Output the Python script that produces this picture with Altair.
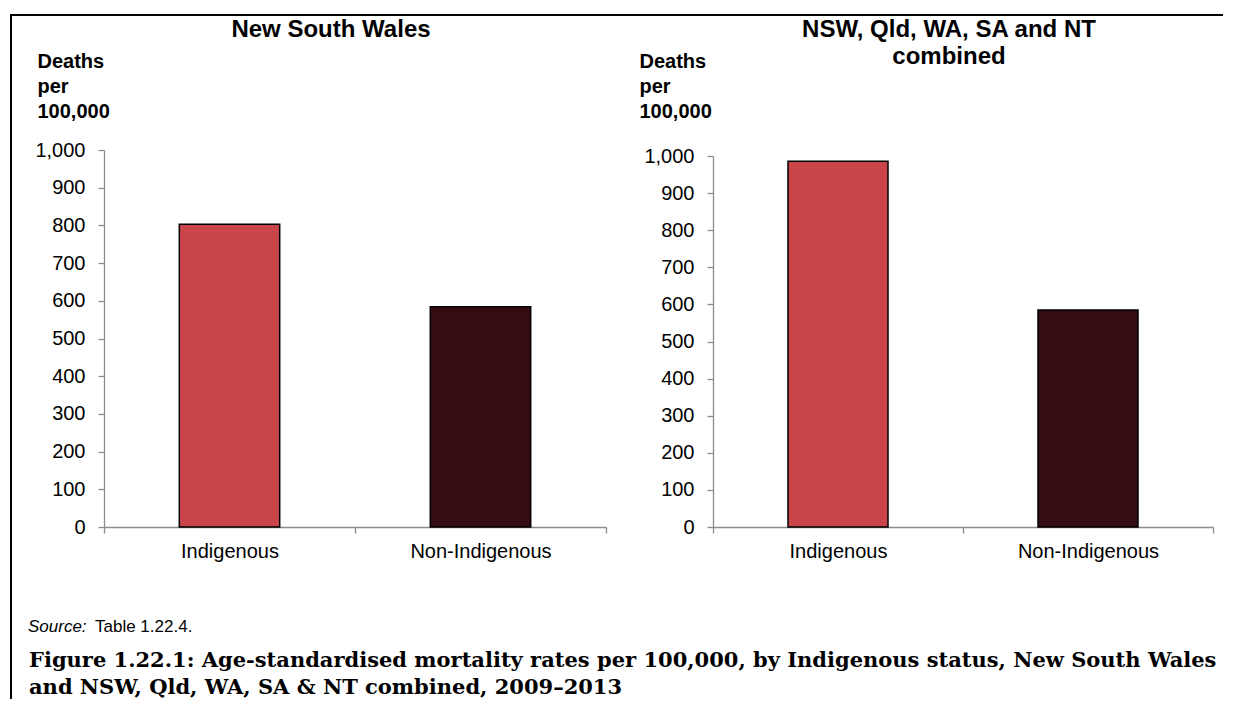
import altair as alt
import pandas as pd

categories = ["Indigenous", "Non-Indigenous"]
nsw_rates = [803, 584]
combined_rates = [986, 585]
bar_colors = ["#C9454A", "#340C11"]
y_ticks = [0, 100, 200, 300, 400, 500, 600, 700, 800, 900, 1000]
left_title = ["New South Wales"]
right_title = ["NSW, Qld, WA, SA and NT\ncombined"]
y_title = ["Deaths", "per", "100,000"]
source_label = ["Source:"]
source_text = ["Table 1.22.4."]
caption_lines = [
    "Figure 1.22.1: Age-standardised mortality rates per 100,000, by Indigenous status, New South Wales\nand NSW, Qld, WA, SA & NT combined, 2009\u20132013"
]

FONT = "Liberation Sans"
AXIS_GREY = "#8C8C8C"
H = 377


def panel(values, title_text, width, y_range, title_x, ytitle_x):
    df = pd.DataFrame({"status": categories, "rate": values})
    x = alt.X(
        "status:N", sort=categories, title=None,
        scale=alt.Scale(paddingInner=0, paddingOuter=0),
        axis=alt.Axis(labelAngle=0, tickBand="extent", domainColor=AXIS_GREY,
                      domainWidth=1.3, tickColor=AXIS_GREY, tickWidth=1.3, tickSize=6,
                      labelFont=FONT, labelFontSize=20, labelColor="black",
                      labelPadding=8, grid=False),
    )
    y = alt.Y(
        "rate:Q",
        scale=alt.Scale(domain=[0, 1000], range=y_range),
        axis=alt.Axis(values=y_ticks, format=",.0f", grid=False, domainColor=AXIS_GREY,
                      domainWidth=1.3, tickColor=AXIS_GREY, tickWidth=1.3, tickSize=6,
                      labelFont=FONT, labelFontSize=20, labelColor="black",
                      labelPadding=13, title=y_title, titleAngle=0, titleAlign="left",
                      titleBaseline="alphabetic", titleX=ytitle_x, titleY=-83,
                      titleFont=FONT, titleFontSize=20, titleFontWeight="bold",
                      titleLineHeight=25, titleColor="black"),
    )
    bars = alt.Chart(df).mark_bar(
        stroke="black", strokeWidth=1.5, width=alt.RelativeBandSize(0.4)
    ).encode(
        x=x, y=y,
        color=alt.Color("status:N", scale=alt.Scale(domain=categories, range=bar_colors), legend=None),
    )
    title = alt.Chart(pd.DataFrame({"t": title_text})).mark_text(
        font=FONT, fontSize=24, fontWeight="bold", align="center", baseline="alphabetic",
        lineBreak="\n", lineHeight=27, color="black",
    ).encode(x=alt.value(title_x), y=alt.value(-113), text="t:N")
    return bars, title


left_bars, left_t = panel(nsw_rates, left_title, 502, [H, 0], 227, -67)
right_bars, right_t = panel(combined_rates, right_title, 500, [H, 6], 236, -74)

one = pd.DataFrame({"k": [0]})
border_left = alt.Chart(one).mark_rule(color="black", strokeWidth=2).encode(
    x=alt.value(-93), y=alt.value(-136), y2=alt.value(549))
border_top = alt.Chart(one).mark_rule(color="black", strokeWidth=2).encode(
    x=alt.value(-94), x2=alt.value(1119), y=alt.value(-135))
src1 = alt.Chart(pd.DataFrame({"t": source_label})).mark_text(
    font=FONT, fontSize=17, fontStyle="italic", align="left", baseline="alphabetic", color="black"
).encode(x=alt.value(-76), y=alt.value(482), text="t:N")
src2 = alt.Chart(pd.DataFrame({"t": source_text})).mark_text(
    font=FONT, fontSize=17, align="left", baseline="alphabetic", color="black"
).encode(x=alt.value(-9), y=alt.value(482), text="t:N")
cap = alt.Chart(pd.DataFrame({"t": caption_lines})).mark_text(
    font="DejaVu Serif", fontSize=21, fontWeight="bold", align="left", baseline="alphabetic",
    lineBreak="\n", lineHeight=27, color="black"
).encode(x=alt.value(-75), y=alt.value(517), text="t:N")

left = alt.layer(left_bars, left_t, border_left, border_top, src1, src2, cap).properties(width=502, height=H)
right = alt.layer(right_bars, right_t).properties(width=500, height=H)

chart = alt.hconcat(left, right, spacing=107, bounds="flush").properties(
    padding={"left": 1, "top": 5, "right": 0, "bottom": 0}
).configure(font=FONT).configure_view(stroke="transparent", strokeWidth=0)

chart.save("out.html", embed_options={"renderer": "svg", "actions": False})
